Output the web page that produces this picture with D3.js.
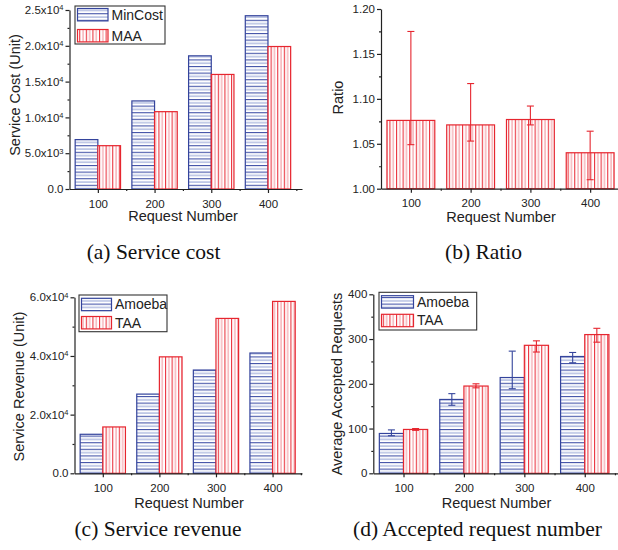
<!DOCTYPE html>
<html>
<head>
<meta charset="utf-8">
<script src="https://cdn.jsdelivr.net/npm/d3@7"></script>
<style>
  body { margin: 0; background: #fff; }
  svg { display: block; font-family: "Liberation Sans", Arial, sans-serif; }
  .axis path, .axis line { stroke: #222; stroke-width: 1.2; }
  .axis text { fill: #222; font-size: 11.5px; font-family: "Liberation Sans", Arial, sans-serif; }
  .title { fill: #222; font-size: 14.5px; }
  .legend-text { fill: #222; font-size: 14px; }
  .caption { fill: #111; font-size: 21.5px; font-family: "Liberation Serif", "Times New Roman", serif; }
</style>
</head>
<body>
<svg id="chart" width="618" height="550"></svg>
<script>
// x categories
const requests = [100, 200, 300, 400];
const xMinor = [150, 250, 350, 450];

// (a) service cost
const costMinCost = [6900, 12300, 18600, 24200];
const costMAA = [6050, 10800, 16000, 19900];
const costTicks = [0, 5000, 10000, 15000, 20000, 25000];

// (b) ratio
const ratioMean = [1.076, 1.071, 1.077, 1.040];
const ratioLow = [1.049, 1.053, 1.071, 1.010];
const ratioHigh = [1.175, 1.117, 1.092, 1.064];
const ratioTicks = [1.00, 1.05, 1.10, 1.15, 1.20];

// (c) service revenue
const revenueAmoeba = [13300, 27000, 35200, 41000];
const revenueTAA = [15800, 39700, 52800, 58600];
const revenueTicks = [0, 20000, 40000, 60000];

// (d) accepted requests
const acceptedAmoeba = [89, 165, 214, 261];
const acceptedAmoebaLow = [84, 152, 189, 247];
const acceptedAmoebaHigh = [97, 178, 273, 270];
const acceptedTAA = [98, 195, 286, 310];
const acceptedTAALow = [96, 191, 271, 293];
const acceptedTAAHigh = [100, 200, 296, 324];
const acceptedTicks = [0, 100, 200, 300, 400];

const BLUE = '#34449c';
const RED = '#e6262f';

const svg = d3.select('#chart');

// hatch patterns
const defs = svg.append('defs');
const hp = defs.append('pattern').attr('id', 'hatchBlue')
    .attr('patternUnits', 'userSpaceOnUse').attr('width', 6).attr('height', 6.6);
hp.append('rect').attr('width', 6).attr('height', 6.6).attr('fill', '#fff');
hp.append('rect').attr('y', 0).attr('width', 6).attr('height', 1.1).attr('fill', '#4353a8');
hp.append('rect').attr('y', 3.3).attr('width', 6).attr('height', 1.1).attr('fill', '#97a6d6');

const vp = defs.append('pattern').attr('id', 'hatchRed')
    .attr('patternUnits', 'userSpaceOnUse').attr('width', 6.6).attr('height', 6);
vp.append('rect').attr('width', 6.6).attr('height', 6).attr('fill', '#fff');
vp.append('rect').attr('x', 0).attr('width', 1.1).attr('height', 6).attr('fill', '#ea3540');
vp.append('rect').attr('x', 3.3).attr('width', 1.1).attr('height', 6).attr('fill', '#f39aa2');

function sciFormat(text, d) {
    text.text(null);
    if (d === 0) { text.text('0.0'); return; }
    const exp = Math.floor(Math.log10(d));
    const mant = d / Math.pow(10, exp);
    text.append('tspan').text(mant.toFixed(1) + 'x10');
    text.append('tspan').attr('dy', '-0.5em').attr('font-size', '7.5px').text(exp);
}

function drawPanel(cfg) {
    const g = svg.append('g');

    const x = d3.scaleLinear().domain([50, cfg.xMax]).range([cfg.left, cfg.right]);
    const y = d3.scaleLinear().domain(cfg.yDomain).range([cfg.bottom, cfg.top]);

    // bars
    cfg.series.forEach((s, si) => {
        const n = cfg.series.length;
        const x0 = r => n === 1 ? r - 40 : r - 40 + si * 40;
        const x1 = r => n === 1 ? r + 40 : r + si * 40;
        g.selectAll(null)
            .data(requests.map((r, i) => ({ r, v: s.values[i] })))
            .join('rect')
                .attr('x', d => x(x0(d.r)))
                .attr('width', d => x(x1(d.r)) - x(x0(d.r)))
                .attr('y', d => y(d.v))
                .attr('height', d => y(cfg.yDomain[0]) - y(d.v))
                .attr('fill', `url(#${s.pattern})`)
                .attr('stroke', s.color)
                .attr('stroke-width', 1.2);

        if (s.low) {
            const cx = r => x((x0(r) + x1(r)) / 2);
            const eb = g.selectAll(null)
                .data(requests.map((r, i) => ({ r, lo: s.low[i], hi: s.high[i] })))
                .join('g')
                .attr('stroke', s.color)
                .attr('stroke-width', 1.1);
            eb.append('line')
                .attr('x1', d => cx(d.r)).attr('x2', d => cx(d.r))
                .attr('y1', d => y(d.lo)).attr('y2', d => y(d.hi));
            eb.append('line')
                .attr('x1', d => cx(d.r) - 3.5).attr('x2', d => cx(d.r) + 3.5)
                .attr('y1', d => y(d.hi)).attr('y2', d => y(d.hi));
            eb.append('line')
                .attr('x1', d => cx(d.r) - 3.5).attr('x2', d => cx(d.r) + 3.5)
                .attr('y1', d => y(d.lo)).attr('y2', d => y(d.lo));
        }
    });

    // axes
    const xAxis = g.append('g').attr('class', 'axis')
        .attr('transform', `translate(0,${cfg.bottom})`)
        .call(d3.axisBottom(x).tickValues(requests).tickSize(4).tickSizeOuter(0).tickPadding(3));
    xAxis.selectAll('text').attr('dy', '1em');
    g.append('g').attr('class', 'axis')
        .attr('transform', `translate(0,${cfg.bottom})`)
        .call(d3.axisBottom(x).tickValues(xMinor).tickSize(2).tickSizeOuter(0).tickFormat(''))
        .select('.domain').remove();

    const yAxis = g.append('g').attr('class', 'axis')
        .attr('transform', `translate(${cfg.left},0)`)
        .call(d3.axisLeft(y).tickValues(cfg.yTicks).tickSize(4).tickSizeOuter(0).tickPadding(2));
    if (cfg.sci) {
        yAxis.selectAll('.tick text').each(function (d) { sciFormat(d3.select(this), d); });
    } else {
        yAxis.selectAll('.tick text').text(cfg.yFormat);
    }
    const minorY = d3.pairs(cfg.yTicks).map(p => (p[0] + p[1]) / 2);
    g.append('g').attr('class', 'axis')
        .attr('transform', `translate(${cfg.left},0)`)
        .call(d3.axisLeft(y).tickValues(minorY).tickSize(2).tickSizeOuter(0).tickFormat(''))
        .select('.domain').remove();

    // titles
    g.append('text').attr('class', 'title')
        .attr('x', cfg.xTitle[0]).attr('y', cfg.xTitle[1])
        .attr('text-anchor', 'middle').text('Request Number');
    g.append('text').attr('class', 'title')
        .attr('transform', `translate(${cfg.yTitle[0]},${cfg.yTitle[1]}) rotate(-90)`)
        .attr('dy', '0.35em')
        .attr('text-anchor', 'middle').text(cfg.yLabel);

    // legend
    if (cfg.legend) {
        const L = cfg.legend;
        g.append('rect')
            .attr('x', L.x).attr('y', L.y).attr('width', L.w).attr('height', L.h)
            .attr('fill', '#fff').attr('stroke', '#333').attr('stroke-width', 1.1);
        cfg.series.forEach((s, i) => {
            const sy = L.y + L.pad + i * L.row;
            g.append('rect')
                .attr('x', L.x + 2.5).attr('y', sy).attr('width', L.sw).attr('height', 12.4)
                .attr('fill', `url(#${s.pattern})`)
                .attr('stroke', s.color).attr('stroke-width', 1.2);
            g.append('text').attr('class', 'legend-text')
                .attr('x', L.x + L.sw + 6).attr('y', sy + 6.2).attr('dy', '0.35em')
                .text(s.name);
        });
    }

    // caption
    svg.append('text').attr('class', 'caption')
        .attr('x', cfg.caption[0]).attr('y', cfg.caption[1])
        .attr('text-anchor', 'middle').text(cfg.caption[2]);
}

drawPanel({
    left: 69.5, right: 302, xMax: 460, top: 10, bottom: 189,
    yDomain: [0, 25000], yTicks: costTicks, sci: true,
    series: [
        { name: 'MinCost', values: costMinCost, pattern: 'hatchBlue', color: BLUE },
        { name: 'MAA', values: costMAA, pattern: 'hatchRed', color: RED }
    ],
    legend: { x: 75, y: 6, w: 90, h: 38, pad: 2.5, row: 21, sw: 30.5 },
    yLabel: 'Service Cost (Unit)', yTitle: [14.5, 95], xTitle: [183, 221],
    caption: [153.5, 259, '(a) Service cost']
});

drawPanel({
    left: 381, right: 626, xMax: 460, top: 9, bottom: 188.7,
    yDomain: [1.0, 1.2], yTicks: ratioTicks, yFormat: d => d.toFixed(2),
    series: [
        { name: 'MAA', values: ratioMean, low: ratioLow, high: ratioHigh, pattern: 'hatchRed', color: RED }
    ],
    yLabel: 'Ratio', yTitle: [338, 97.5], xTitle: [501, 222],
    caption: [483.5, 259, '(b) Ratio']
});

drawPanel({
    left: 74.5, right: 302, xMax: 452, top: 297.3, bottom: 473.3,
    yDomain: [0, 60000], yTicks: revenueTicks, sci: true,
    series: [
        { name: 'Amoeba', values: revenueAmoeba, pattern: 'hatchBlue', color: BLUE },
        { name: 'TAA', values: revenueTAA, pattern: 'hatchRed', color: RED }
    ],
    legend: { x: 79, y: 295, w: 88, h: 36.7, pad: 3.3, row: 18.2, sw: 30 },
    yLabel: 'Service Revenue (Unit)', yTitle: [18.5, 386.5], xTitle: [189, 508],
    caption: [158, 536, '(c) Service revenue']
});

drawPanel({
    left: 373.3, right: 621, xMax: 460, top: 294.3, bottom: 473.3,
    yDomain: [0, 400], yTicks: acceptedTicks, yFormat: d => d,
    series: [
        { name: 'Amoeba', values: acceptedAmoeba, low: acceptedAmoebaLow, high: acceptedAmoebaHigh, pattern: 'hatchBlue', color: BLUE },
        { name: 'TAA', values: acceptedTAA, low: acceptedTAALow, high: acceptedTAAHigh, pattern: 'hatchRed', color: RED }
    ],
    legend: { x: 379, y: 292.3, w: 97.7, h: 37.7, pad: 3.4, row: 18.6, sw: 32 },
    yLabel: 'Average Accepted Requests', yTitle: [336.7, 384], xTitle: [496.5, 508],
    caption: [477.5, 536, '(d) Accepted request number']
});
</script>
</body>
</html>
